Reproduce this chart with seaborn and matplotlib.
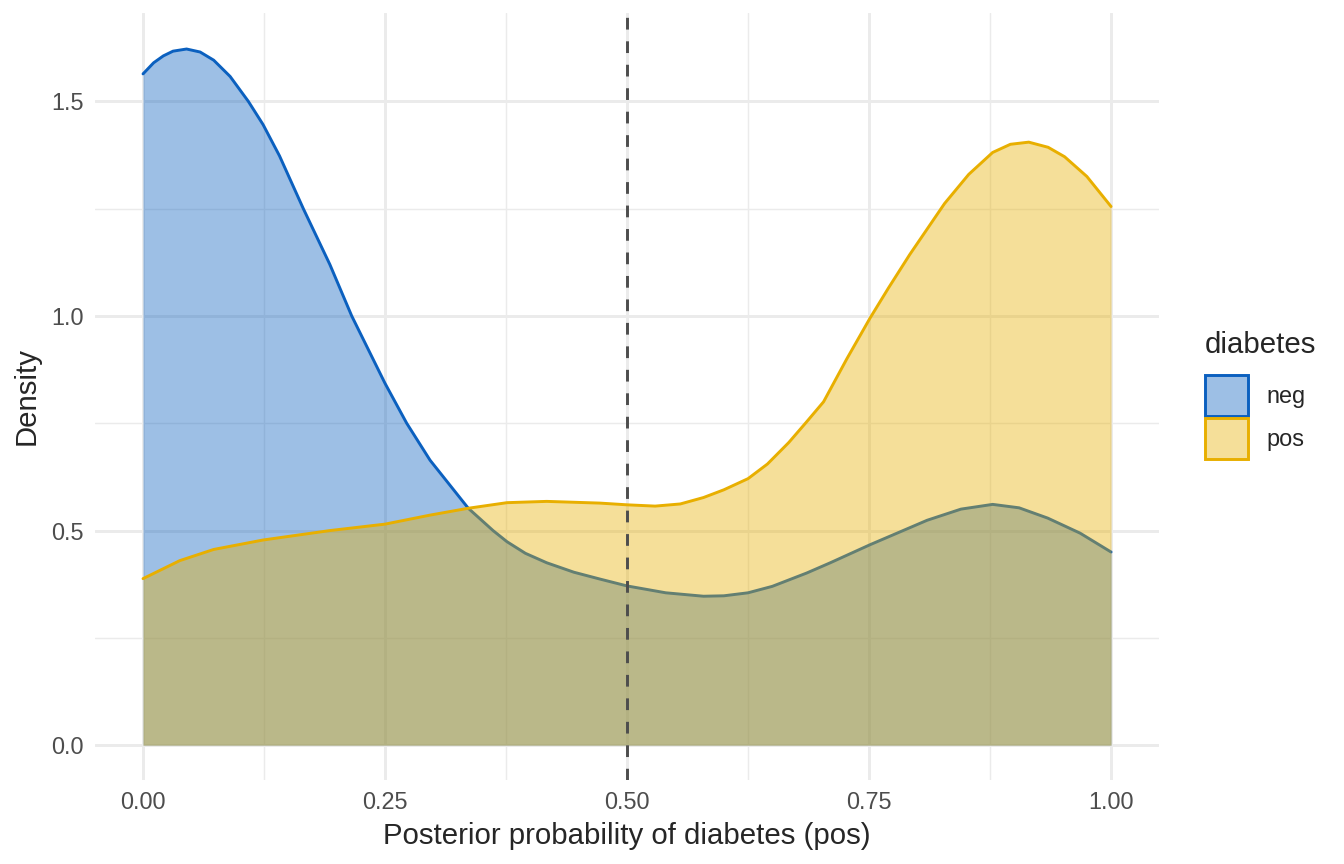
import pandas as pd
import seaborn as sns
import matplotlib.pyplot as plt
from matplotlib.colors import to_rgb
from matplotlib.patches import Patch

# density curves (x, density)
neg_x = [0.000, 0.011, 0.021, 0.031, 0.045, 0.059, 0.073, 0.090, 0.1088, 0.124,
         0.141, 0.1656, 0.193, 0.2156, 0.250, 0.2724, 0.2965, 0.336, 0.3616, 0.376,
         0.395, 0.417, 0.445, 0.472, 0.500, 0.540, 0.579, 0.600, 0.625, 0.650,
         0.6855, 0.710, 0.751, 0.810, 0.845, 0.8777, 0.905, 0.9346, 0.968, 1.000]
neg_y = [1.564, 1.590, 1.606, 1.617, 1.622, 1.615, 1.596, 1.558, 1.500, 1.446,
         1.373, 1.250, 1.120, 1.000, 0.843, 0.750, 0.664, 0.552, 0.500, 0.474,
         0.447, 0.425, 0.403, 0.387, 0.371, 0.355, 0.347, 0.348, 0.355, 0.370,
         0.401, 0.425, 0.467, 0.524, 0.550, 0.561, 0.553, 0.529, 0.494, 0.450]

pos_x = [0.000, 0.038, 0.073, 0.124, 0.193, 0.250, 0.2965, 0.336, 0.376, 0.417,
         0.472, 0.500, 0.529, 0.555, 0.579, 0.600, 0.625, 0.645, 0.667, 0.685,
         0.703, 0.727, 0.751, 0.770, 0.792, 0.828, 0.853, 0.8777, 0.896, 0.915,
         0.935, 0.952, 0.975, 1.000]
pos_y = [0.388, 0.430, 0.456, 0.478, 0.500, 0.515, 0.536, 0.552, 0.565, 0.568,
         0.564, 0.560, 0.557, 0.562, 0.577, 0.595, 0.621, 0.655, 0.705, 0.752,
         0.800, 0.900, 0.995, 1.065, 1.143, 1.262, 1.330, 1.381, 1.400, 1.405,
         1.393, 1.371, 1.325, 1.255]

groups = ['neg', 'pos']
colors = {'neg': '#0B60BF', 'pos': '#E8AF00'}
threshold = 0.5
x_ticks = [0.0, 0.25, 0.5, 0.75, 1.0]
x_labels = ['0.00', '0.25', '0.50', '0.75', '1.00']
y_ticks = [0.0, 0.5, 1.0, 1.5]
y_labels = ['0.0', '0.5', '1.0', '1.5']

df = pd.concat([
    pd.DataFrame({'x': neg_x, 'density': neg_y, 'diabetes': 'neg'}),
    pd.DataFrame({'x': pos_x, 'density': pos_y, 'diabetes': 'pos'}),
])

sns.set_style('white')
plt.rcParams['font.family'] = ['Liberation Sans', 'DejaVu Sans']

fig, ax = plt.subplots(figsize=(7, 4.5), dpi=192)
fig.subplots_adjust(left=0.0704, right=0.8627, bottom=0.0972, top=0.985)

# draw group by group so the later area covers the earlier outline (like ggplot)
for i, g in enumerate(groups):
    d = df[df['diabetes'] == g]
    ax.fill_between(d['x'], 0, d['density'], color=colors[g], alpha=0.4,
                    linewidth=0, zorder=2 + 2 * i)
    sns.lineplot(data=d, x='x', y='density', color=colors[g], linewidth=1.1, ax=ax,
                 sort=False, estimator=None, zorder=3 + 2 * i)

ax.axvline(threshold, color='#4D4D4D', linestyle=(0, (4, 4)), linewidth=1.1, zorder=10)

# theme_minimal look
ax.set_xlim(-0.05, 1.05)
ax.set_ylim(-0.0812, 1.706)
ax.set_xticks(x_ticks)
ax.set_xticklabels(x_labels)
ax.set_xticks([0.125, 0.375, 0.625, 0.875], minor=True)
ax.set_yticks(y_ticks)
ax.set_yticklabels(y_labels)
ax.set_yticks([0.25, 0.75, 1.25], minor=True)
ax.grid(which='major', color='#EBEBEB', linewidth=1.1, zorder=0)
ax.grid(which='minor', color='#EBEBEB', linewidth=0.55, zorder=0)
ax.set_axisbelow(True)
for s in ax.spines.values():
    s.set_visible(False)
ax.tick_params(which='both', length=0, labelsize=8.8, labelcolor='#4D4D4D', pad=4)
ax.set_xlabel('Posterior probability of diabetes (pos)', fontsize=11, labelpad=3)
ax.set_ylabel('Density', fontsize=11, labelpad=4)

handles = [Patch(facecolor=(*to_rgb(colors[g]), 0.4), edgecolor=colors[g],
                 linewidth=1.1, label=g) for g in groups]
leg = ax.legend(handles=handles, title='diabetes', loc='center left',
                bbox_to_anchor=(1.027, 0.502), frameon=False, fontsize=8.8,
                title_fontsize=11, handlelength=1.85, handleheight=2.35,
                handletextpad=0.8, labelspacing=0.05, borderaxespad=0.3)
leg._legend_box.align = 'left'
leg._legend_box.sep = 6

fig.savefig('out.png', dpi=192)
